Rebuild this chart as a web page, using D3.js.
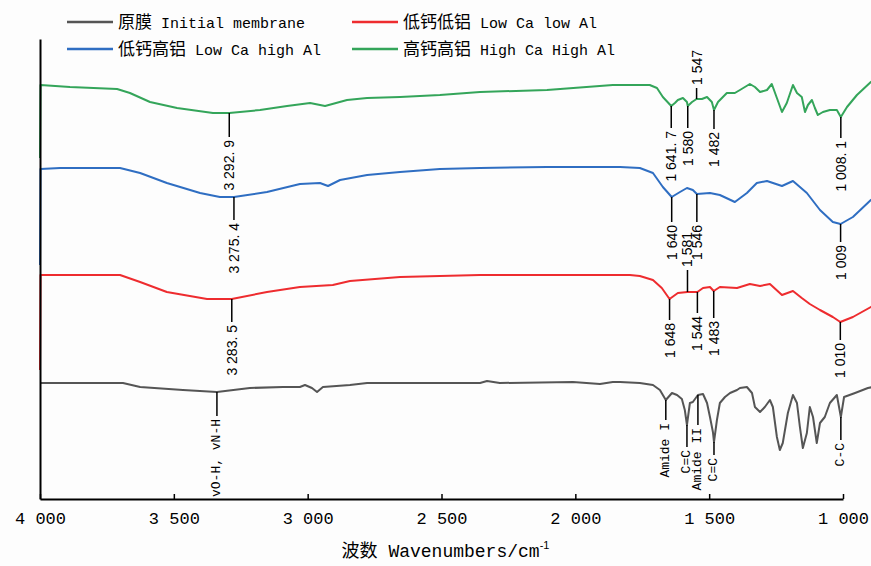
<!DOCTYPE html>
<html><head><meta charset="utf-8">
<script src="https://cdn.jsdelivr.net/npm/d3@7"></script>
<style>body{margin:0;background:#fdfdfd} svg{display:block}</style>
</head><body><svg id="c" width="871" height="566"></svg>
<script>
// ---------- data ----------
const seriesNames = ["原膜", "低钙低铝", "低钙高铝", "高钙高铝"];
const seriesEnglish = ["Initial membrane", "Low Ca low Al", "Low Ca high Al", "High Ca High Al"];

// Wavenumbers (cm-1) and transmittance (a.u., offset traces)
const wnInitial = [4000,3690,3626,3466,3339,3216,3092,3029,3010,2984,2965,2943,2842,2778,2356,2330,2282,2009,1908,1860,1833,1759,1710,1684,1662,1639,1620,1602,1591,1583,1572,1561,1542,1523,1508,1497,1486,1482,1471,1460,1441,1422,1396,1385,1359,1340,1329,1310,1292,1273,1262,1247,1236,1225,1206,1187,1172,1161,1150,1135,1124,1112,1098,1086,1068,1049,1023,1008,996,955,907,870];
const valInitial = [29,29,28,27.25,26.75,27.75,28,28,28.5,27.75,26.75,28,28.5,29,29,29.5,29,29.25,28.75,29.25,29.25,29,28.5,27.25,24.75,26.5,26,25,22.25,18.5,24,24.25,26,26.25,24,20.5,16.75,14.25,19.75,24,25.5,26.5,27.25,27.75,28,26.5,23,21.75,23,24.75,23,15.5,12.25,14,21.5,26,24,18,12.75,16.5,23,20.5,14,19,20.5,24,26,20.5,25.5,26.5,27.75,28.25];

const wnLowLow = [4000,3998,3701,3626,3526,3376,3283.5,3152,3029,2906,2842,2655,2506,2356,1796,1759,1710,1677,1648,1617,1581,1564,1544,1523,1497,1483,1460,1396,1348,1310,1273,1228,1187,1154,1124,1086,1038,1010,963,896,870];
const valLowLow = [32.25,56,56,54.25,51.75,50,50,51.75,53,53.5,54.5,55.5,55.75,56,56,55.75,54.75,52.75,50,51.5,51.75,51.75,51.75,52.75,53,52,53,52.75,53.75,53.25,53.75,51,52,50.25,48.75,47.25,45.5,44.25,45.5,48,49];

const wnLowHigh = [4000,3998,3925,3701,3626,3526,3402,3328,3275.4,3152,3029,2954,2924,2879,2778,2655,2506,2356,2106,1833,1759,1710,1673,1640,1609,1583,1561,1546,1497,1460,1404,1359,1322,1284,1228,1187,1135,1086,1038,1009,963,896,870];
const valLowHigh = [58.5,82.5,82.75,82.75,81.5,79,76.5,75.5,75.5,76.75,78.75,79,78.25,79.75,81,81.75,82.5,82.75,83,83,82.75,81.5,78,75.5,76.75,77.75,77.25,76.25,76.5,76,74.25,76.5,79,79.5,78.25,79.5,76.5,72.25,69.25,68.75,70.5,74.75,76];

const wnHighHigh = [4000,3998,3888,3712,3664,3589,3488,3354,3292.9,3178,3077,2991,2935,2853,2778,2655,2506,2356,2106,1860,1722,1695,1673,1641.7,1628,1617,1598,1583,1580,1564,1547,1527,1508,1490,1482,1467,1434,1404,1385,1348,1329,1310,1284,1266,1247,1228,1210,1187,1172,1154,1142,1131,1116,1105,1094,1075,1049,1023,1008.1,985,948,896,870];
const valHighHigh = [85.25,103.5,103,102.5,101.5,99.25,97.75,96.5,96.5,97.25,98.25,99,98.25,99.75,100.25,100.5,101,101.75,102.25,103.5,103.5,102.75,100.5,98.25,99,99.75,100.25,99.25,98.25,99.25,100,100,100.5,99.25,97.25,99.25,101.5,101.5,102.25,103.75,103,101.75,102.25,103.75,100.25,96.75,99,103.5,101.5,100.5,96.75,98.5,99.75,97.75,96,96.75,97.25,97.25,95.5,98,101,104.25,105.5];

const xTickValues = [4000, 3500, 3000, 2500, 2000, 1500, 1000];
const xTickLabels = ["4 000", "3 500", "3 000", "2 500", "2 000", "1 500", "1 000"];

// Peak annotations: series index, wavenumber, label
const annoSeries = [3,3,3,3,3,3, 2,2,2,2, 1,1,1,1,1,1, 0,0,0,0,0,0];
const annoWn = [3292.9,1641.7,1580,1547,1482,1008.1, 3275.4,1640,1546,1009, 3283.5,1648,1581,1544,1483,1010, 3339,1662,1583,1542,1482,1008];
const annoText = ["3 292. 9","1 641. 7","1 580","1 547","1 482","1 008. 1",
                  "3 275. 4","1 640","1 546","1 009",
                  "3 283. 5","1 648","1 581","1 544","1 483","1 010",
                  "vO-H, vN-H","Amide I","C=C","Amide II","C=C","C-C"];

// ---------- styles ----------
const seriesColors = ["#555555", "#ee2c2f", "#2f6ec2", "#34a55a"];
const annoLen = [24,22,22,-11,19,21, 23,25,28,18, 23,21,-22,21,27,18, 24,20,22,30,13,23];

const wnList = [wnInitial, wnLowLow, wnLowHigh, wnHighHigh];
const valList = [valInitial, valLowLow, valLowHigh, valHighHigh];
const series = wnList.map((w, i) => w.map((d, j) => [d, valList[i][j]]));

const svg = d3.select("#c");
svg.append("rect").attr("width", 871).attr("height", 566).attr("fill", "#fdfdfd");

const x = d3.scaleLinear().domain([4000, 1000]).range([40, 843]);
const y = d3.scaleLinear().domain([0, 115]).range([499, 39]);

// lines
const line = d3.line().x(d => x(d[0])).y(d => y(d[1]));
svg.append("g").selectAll("path").data(series).join("path")
  .attr("d", line).attr("fill", "none")
  .attr("stroke", (d, i) => seriesColors[i]).attr("stroke-width", 2)
  .attr("stroke-linejoin", "round");

// axes
const xAxis = d3.axisBottom(x).tickValues(xTickValues)
  .tickFormat((d, i) => xTickLabels[i]).tickSizeInner(-5).tickSizeOuter(0).tickPadding(13);
const gx = svg.append("g").attr("transform", `translate(0,${y(0)})`).call(xAxis);
gx.select(".domain").attr("stroke", "#000").attr("stroke-width", 2);
gx.selectAll(".tick line").attr("stroke", "#000").attr("stroke-width", 1.5);
gx.selectAll(".tick text").attr("font-family", "Liberation Mono").attr("font-size", 17).attr("fill", "#000");

const yAxis = d3.axisLeft(y).tickValues([]).tickSizeOuter(0);
const gy = svg.append("g").attr("transform", `translate(${x(4000)},0)`).call(yAxis);
gy.select(".domain").attr("stroke", "#000").attr("stroke-width", 2);

// axis title
const title = svg.append("text").attr("x", (x(4000) + x(1000)) / 2 + 4).attr("y", 557)
  .attr("text-anchor", "middle").attr("fill", "#000");
title.append("tspan").attr("font-family", "Noto Sans CJK SC").attr("font-size", 18).text("波数");
title.append("tspan").attr("font-family", "Liberation Mono").attr("font-size", 18).text(" Wavenumbers/cm");
title.append("tspan").attr("font-family", "Liberation Sans").attr("font-size", 11).attr("dy", -8).text("-1");

// annotations
function interp(s, w) {
  for (let k = 0; k < s.length - 1; k++) {
    const a = s[k], b = s[k + 1];
    if (w <= a[0] && w >= b[0]) {
      const t = (a[0] - w) / (a[0] - b[0] || 1);
      return a[1] + t * (b[1] - a[1]);
    }
  }
  return s[s.length - 1][1];
}
const ga = svg.append("g");
annoWn.forEach((w, i) => {
  const si = annoSeries[i];
  const cx = x(w), cy = y(interp(series[si], w));
  const len = annoLen[i];
  const dir = len > 0 ? 1 : -1;
  ga.append("line").attr("x1", cx).attr("x2", cx).attr("y1", cy).attr("y2", cy + len)
    .attr("stroke", "#000").attr("stroke-width", 1.5);
  ga.append("text")
    .attr("transform", `translate(${cx},${cy + len + dir * 3}) rotate(-90)`)
    .attr("text-anchor", dir > 0 ? "end" : "start")
    .attr("dominant-baseline", "central")
    .attr("font-family", si === 0 ? "Liberation Mono" : "Liberation Sans")
    .attr("font-size", si === 0 ? 13 : 14)
    .attr("fill", "#000")
    .style("white-space", "pre")
    .text(annoText[i]);
});

// legend
const legendOrder = [0, 1, 2, 3];
const legX = [67, 352], legY = [22, 49];
legendOrder.forEach((si, k) => {
  const lx = legX[k % 2], ly = legY[Math.floor(k / 2)];
  svg.append("line").attr("x1", lx).attr("x2", lx + 46).attr("y1", ly).attr("y2", ly)
    .attr("stroke", seriesColors[si]).attr("stroke-width", 2.5);
  const t = svg.append("text").attr("x", lx + 51).attr("y", ly + 6).attr("fill", "#000");
  t.append("tspan").attr("font-family", "Noto Sans CJK SC").attr("font-size", 17).text(seriesNames[si]);
  t.append("tspan").attr("font-family", "Liberation Mono").attr("font-size", 15).text(" " + seriesEnglish[si]);
});
</script></body></html>
